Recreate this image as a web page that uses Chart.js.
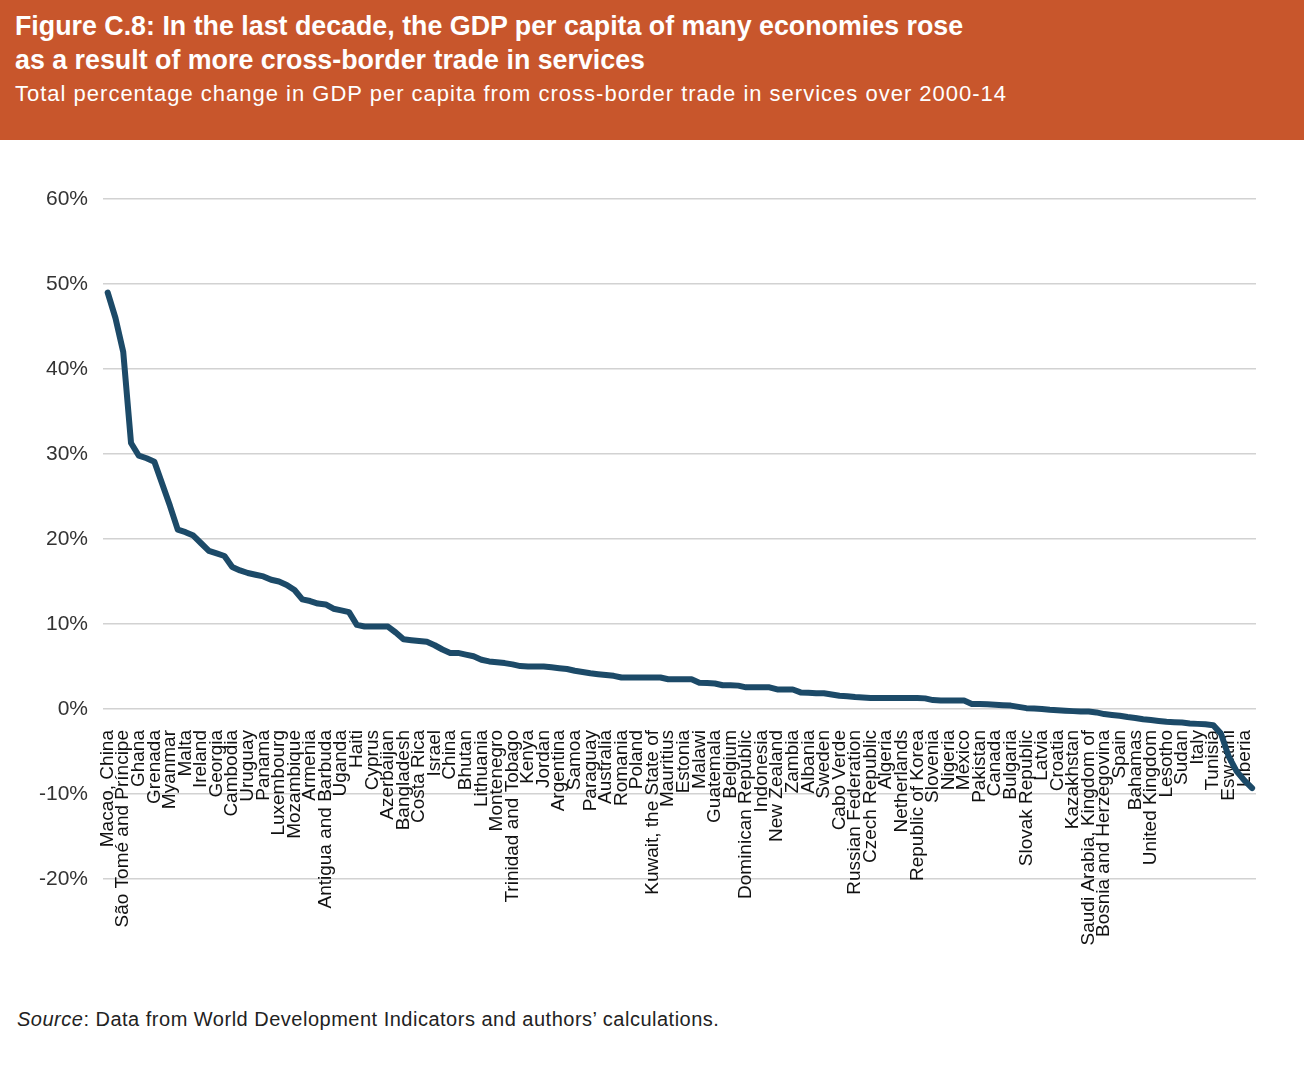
<!DOCTYPE html>
<html>
<head>
<meta charset="utf-8">
<script src="https://cdn.jsdelivr.net/npm/chart.js@4.4.1/dist/chart.umd.min.js"></script>
<style>
  body { margin: 0; background: #fff; font-family: "Liberation Sans", Arial, sans-serif; }
  #page { position: relative; width: 1304px; height: 1076px; overflow: hidden; }
  #header { position: absolute; left: 0; top: 0; width: 1304px; height: 140px; background: #c8562c; color: #fff; }
  #title { position: absolute; left: 15px; top: 9px; font-size: 26.8px; font-weight: bold; line-height: 34px; }
  #subtitle { position: absolute; left: 15px; top: 81px; font-size: 22px; letter-spacing: 1px; }
  #chartBox { position: absolute; left: 0; top: 140px; width: 1304px; height: 860px; }
  #source { position: absolute; left: 17px; top: 1008px; font-size: 20px; letter-spacing: 0.5px; color: #222; }
</style>
</head>
<body>
<div id="page">
  <div id="header">
    <div id="title">Figure C.8: In the last decade, the GDP per capita of many economies rose<br>as a result of more cross-border trade in services</div>
    <div id="subtitle">Total percentage change in GDP per capita from cross-border trade in services over 2000-14</div>
  </div>
  <div id="chartBox"><canvas id="chart"></canvas></div>
  <div id="source"><i>Source</i>: Data from World Development Indicators and authors’ calculations.</div>
</div>
<script>
// labelled economies (every other point of the series carries a label)
const countries = [
  "Macao, China", "São Tomé and Príncipe", "Ghana", "Grenada", "Myanmar", "Malta", "Ireland", "Georgia",
  "Cambodia", "Uruguay", "Panama", "Luxembourg", "Mozambique", "Armenia", "Antigua and Barbuda", "Uganda",
  "Haiti", "Cyprus", "Azerbaijan", "Bangladesh", "Costa Rica", "Israel", "China", "Bhutan",
  "Lithuania", "Montenegro", "Trinidad and Tobago", "Kenya", "Jordan", "Argentina", "Samoa", "Paraguay",
  "Australia", "Romania", "Poland", "Kuwait, the State of", "Mauritius", "Estonia", "Malawi", "Guatemala",
  "Belgium", "Dominican Republic", "Indonesia", "New Zealand", "Zambia", "Albania", "Sweden", "Cabo Verde",
  "Russian Federation", "Czech Republic", "Algeria", "Netherlands", "Republic of Korea", "Slovenia", "Nigeria", "Mexico",
  "Pakistan", "Canada", "Bulgaria", "Slovak Republic", "Latvia", "Croatia", "Kazakhstan", "Saudi Arabia, Kingdom of",
  "Bosnia and Herzegovina", "Spain", "Bahamas", "United Kingdom", "Lesotho", "Sudan", "Italy", "Tunisia",
  "Eswatini", "Liberia"
];

// % change in GDP per capita, 2000-14, one value per economy (sorted)
const gdpChange = [
  49.0, 46.0, 42.0, 31.3, 29.8, 29.5, 29.1, 26.5, 23.9, 21.1,
  20.8, 20.4, 19.5, 18.6, 18.3, 18.0, 16.7, 16.3, 16.0, 15.8,
  15.6, 15.2, 15.0, 14.6, 14.0, 12.9, 12.7, 12.4, 12.3, 11.8,
  11.6, 11.4, 9.9, 9.7, 9.7, 9.7, 9.7, 9.0, 8.2, 8.1,
  8.0, 7.9, 7.5, 7.0, 6.6, 6.6, 6.4, 6.2, 5.8, 5.6,
  5.5, 5.4, 5.25, 5.05, 5.0, 5.0, 5.0, 4.9, 4.8, 4.7,
  4.5, 4.35, 4.2, 4.1, 4.0, 3.9, 3.7, 3.7, 3.7, 3.7,
  3.7, 3.7, 3.5, 3.5, 3.5, 3.5, 3.1, 3.05, 3.0, 2.8,
  2.8, 2.75, 2.55, 2.55, 2.55, 2.55, 2.3, 2.3, 2.3, 1.95,
  1.9, 1.85, 1.85, 1.7, 1.55, 1.5, 1.4, 1.35, 1.3, 1.3,
  1.3, 1.3, 1.3, 1.3, 1.3, 1.25, 1.05, 1.0, 1.0, 1.0,
  1.0, 0.6, 0.6, 0.55, 0.5, 0.45, 0.4, 0.25, 0.1, 0.05,
  0.0, -0.1, -0.15, -0.2, -0.25, -0.3, -0.3, -0.4, -0.6, -0.7,
  -0.8, -0.95, -1.05, -1.2, -1.3, -1.4, -1.5, -1.55, -1.6, -1.7,
  -1.75, -1.8, -1.9, -2.9, -5.6, -7.3, -8.4, -9.3
];

const yMin = -20, yMax = 60, yStep = 10;

const points = gdpChange.map((v, i) => ({x: i, y: v}));

const ctx = document.getElementById('chart').getContext('2d');
new Chart(ctx, {
  type: 'line',
  data: {
    datasets: [{
      data: points,
      borderColor: '#1c4a68',
      borderWidth: 6,
      borderJoinStyle: 'round',
      borderCapStyle: 'round',
      pointRadius: 0,
      tension: 0,
      fill: false
    }]
  },
  options: {
    responsive: true,
    maintainAspectRatio: false,
    animation: false,
    layout: { padding: { left: 0, top: 59, right: 48, bottom: 121 } },
    plugins: { legend: { display: false }, tooltip: { enabled: false } },
    scales: {
      x: {
        type: 'linear',
        position: { y: 0 },
        min: -0.6,
        max: 147.5,
        grid: { display: false },
        border: { display: false },
        ticks: {
          stepSize: 2,
          autoSkip: false,
          includeBounds: false,
          minRotation: 90,
          maxRotation: 90,
          padding: 13,
          color: '#111',
          font: { family: '"Liberation Sans", Arial, sans-serif', size: 19 },
          callback: function(v) {
            if (v % 2 !== 0) return '';
            return countries[v / 2] || '';
          }
        }
      },
      y: {
        min: yMin,
        max: yMax,
        grid: { color: '#d2d2d2', lineWidth: 1.5, drawTicks: false },
        border: { display: false },
        afterFit: function(scale) { scale.width = 103; },
        ticks: {
          stepSize: yStep,
          padding: 15,
          color: '#333',
          font: { family: '"Liberation Sans", Arial, sans-serif', size: 21 },
          callback: function(v) { return v + '%'; }
        }
      }
    }
  }
});
</script>
</body>
</html>
